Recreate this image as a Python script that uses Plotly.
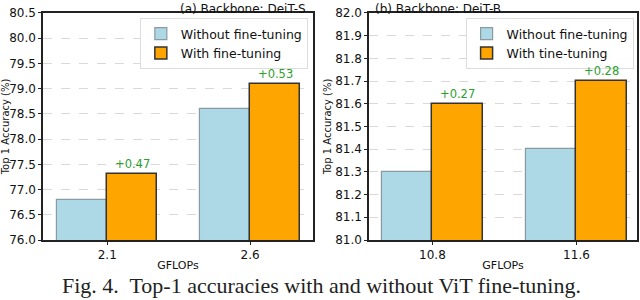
import plotly.graph_objects as go

# Data
cats_s = ["2.1", "2.6"]
without_s = [76.8, 78.6]
with_s = [77.3, 79.1]
gain_s = ["+0.47", "+0.53"]

cats_b = ["10.8", "11.6"]
without_b = [81.3, 81.4]
with_b = [81.6, 81.7]
gain_b = ["+0.27", "+0.28"]

BLUE = "#add8e6"
ORANGE = "#ffa500"
GREEN = "#2ca02c"
FONT = "DejaVu Sans"

fig = go.Figure()
pos = [0, 1]
off = 0.175
bw = 0.35

def add_panel(xa, ya, wo, wi, legend, lab_with):
    fig.add_trace(go.Bar(x=[p - off for p in pos], y=wo, width=bw, name="Without fine-tuning",
                         marker=dict(color=BLUE, line=dict(color="#8a9aa0", width=1.2)),
                         xaxis=xa, yaxis=ya, legend=legend))
    fig.add_trace(go.Bar(x=[p + off for p in pos], y=wi, width=bw, name=lab_with,
                         marker=dict(color=ORANGE, line=dict(color="#333333", width=1.5)),
                         xaxis=xa, yaxis=ya, legend=legend))

add_panel("x", "y", without_s, with_s, "legend", "With fine-tuning")
add_panel("x2", "y2", without_b, with_b, "legend2", "With tine-tuning")

for i, p in enumerate(pos):
    fig.add_annotation(x=p + off, y=with_s[i], text=gain_s[i], xref="x", yref="y",
                       showarrow=False, yanchor="bottom", yshift=1,
                       font=dict(family=FONT, size=11.5, color=GREEN))
    fig.add_annotation(x=p + off, y=with_b[i], text=gain_b[i], xref="x2", yref="y2",
                       showarrow=False, yanchor="bottom", yshift=1,
                       font=dict(family=FONT, size=11.5, color=GREEN))

axis_common = dict(showline=True, linecolor="#222222", linewidth=1.5, mirror=True,
                   ticks="outside", ticklen=3, tickcolor="#222222", automargin=False,
                   tickfont=dict(family=FONT, size=12, color="#111111"), zeroline=False)

ydom = [0.2, 0.957]
fig.update_layout(
    width=640, height=300,
    margin=dict(l=0, r=0, t=0, b=0, autoexpand=False),
    paper_bgcolor="white", plot_bgcolor="white",
    barmode="overlay", bargap=0,
    font=dict(family=FONT, color="#111111"),
    xaxis=dict(domain=[0.0672, 0.489], range=[-0.45, 1.44], tickvals=pos, ticktext=cats_s,
               anchor="y", showgrid=False,
               title=dict(text="GFLOPs", font=dict(size=11), standoff=0),
               **axis_common),
    yaxis=dict(domain=ydom, range=[76.0, 80.5], dtick=0.5, tickformat=".1f", anchor="x",
               showgrid=True, gridcolor="#d9d9d9", griddash="dash", gridwidth=1,
               title=dict(text="Top 1 Accuracy (%)", font=dict(size=10), standoff=2),
               **axis_common),
    xaxis2=dict(domain=[0.5766, 0.9953], range=[-0.44, 1.42], tickvals=pos, ticktext=cats_b,
                anchor="y2", showgrid=False,
                title=dict(text="GFLOPs", font=dict(size=11), standoff=0),
                **axis_common),
    yaxis2=dict(domain=ydom, range=[81.0, 82.0], dtick=0.1, tickformat=".1f", anchor="x2",
                showgrid=True, gridcolor="#d9d9d9", griddash="dash", gridwidth=1,
                title=dict(text="Top 1 Accuracy (%)", font=dict(size=10), standoff=2),
                **axis_common),
    legend=dict(x=0.481, y=0.94, xanchor="right", yanchor="top",
                bgcolor="rgba(255,255,255,0.9)", bordercolor="#dddddd", borderwidth=1,
                font=dict(family=FONT, size=12.5), itemwidth=30, tracegroupgap=0),
    legend2=dict(x=0.99, y=0.94, xanchor="right", yanchor="top",
                 bgcolor="rgba(255,255,255,0.9)", bordercolor="#dddddd", borderwidth=1,
                 font=dict(family=FONT, size=12.5), itemwidth=30, tracegroupgap=0),
)

fig.add_annotation(x=0.278, y=0.957, xref="paper", yref="paper", text="(a) Backbone: DeiT-S",
                   showarrow=False, yanchor="bottom", yshift=-5, font=dict(family=FONT, size=12))
fig.add_annotation(x=0.786, y=0.957, xref="paper", yref="paper", text="(b) Backbone: DeiT-B",
                   showarrow=False, yanchor="bottom", yshift=-5, font=dict(family=FONT, size=12))
fig.add_annotation(x=0.094, y=0, xref="paper", yref="paper",
                   text="Fig. 4.  Top-1 accuracies with and without ViT fine-tuning.",
                   showarrow=False, xanchor="left", yanchor="bottom", yshift=0,
                   font=dict(family="Liberation Serif", size=22, color="#222222"))

fig.write_html("out.html", config={"displayModeBar": False},
               post_script="document.body.style.margin='0';")
